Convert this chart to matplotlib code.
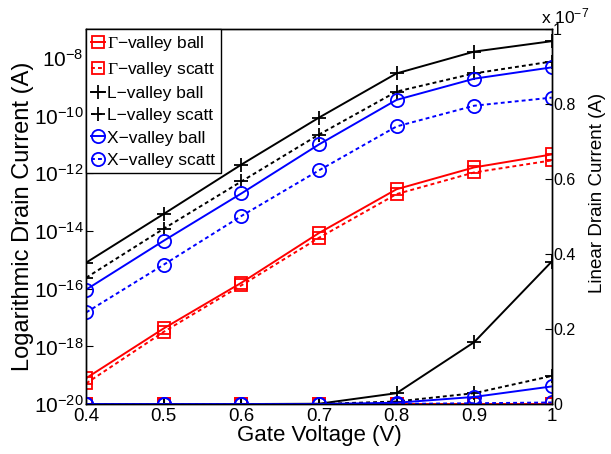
import numpy as np
import matplotlib
matplotlib.use("Agg")
import matplotlib.pyplot as plt
from matplotlib.ticker import FixedLocator, NullLocator

plt.rcParams['font.family'] = ['Liberation Sans', 'DejaVu Sans']
plt.rcParams['mathtext.fontset'] = 'custom'
plt.rcParams['mathtext.rm'] = 'Liberation Sans'
plt.rcParams['mathtext.it'] = 'Liberation Sans:italic'
plt.rcParams['mathtext.sf'] = 'Liberation Serif'

gate_voltage = [0.4, 0.5, 0.6, 0.7, 0.8, 0.9, 1.0]

# Drain currents (A)
gamma_ball  = [7.9e-20, 4.2e-18, 1.6e-16, 8.5e-15, 2.8e-13, 1.6e-12, 4.5e-12]
gamma_scatt = [5.2e-20, 3.2e-18, 1.3e-16, 5.8e-15, 1.9e-13, 1.07e-12, 2.8e-12]
L_ball      = [8.0e-16, 3.9e-14, 2.0e-12, 8.5e-11, 2.9e-9, 1.65e-8, 3.8e-8]
L_scatt     = [2.4e-16, 1.2e-14, 5.2e-13, 2.2e-11, 6.8e-10, 2.9e-9, 7.5e-9]
X_ball      = [9.3e-17, 4.6e-15, 2.0e-13, 1.0e-11, 3.5e-10, 1.9e-9, 4.7e-9]
X_scatt     = [1.5e-17, 6.8e-16, 3.3e-14, 1.26e-12, 4.2e-11, 2.2e-10, 4.2e-10]

labels = [r'$\mathsf{\Gamma}$' + '\u2212valley ball',
          r'$\mathsf{\Gamma}$' + '\u2212valley scatt',
          'L\u2212valley ball', 'L\u2212valley scatt',
          'X\u2212valley ball', 'X\u2212valley scatt']

series = [gamma_ball, gamma_scatt, L_ball, L_scatt, X_ball, X_scatt]
dash = (0, (2.0, 1.6))
styles = [('red', 's', '-'), ('red', 's', dash),
          ('black', '+', '-'), ('black', '+', dash),
          ('blue', 'o', '-'), ('blue', 'o', dash)]

log_ticks = [1e-20, 1e-18, 1e-16, 1e-14, 1e-12, 1e-10, 1e-8]
lin_ticks = [0, 0.2e-7, 0.4e-7, 0.6e-7, 0.8e-7, 1e-7]
lin_ticklabels = ['0', '0.2', '0.4', '0.6', '0.8', '1']
x_ticklabels = ['0.4', '0.5', '0.6', '0.7', '0.8', '0.9', '1']

fig = plt.figure(figsize=(6.11, 4.54), dpi=100)
ax = fig.add_axes([0.141, 0.110, 0.762, 0.826])
ax2 = ax.twinx()

handles = []
for data, (c, m, ls), lab in zip(series, styles, labels):
    ms = 9.5 if m == 'o' else (10 if m == '+' else 8.5)
    kw = dict(color=c, marker=m, linestyle=ls, markersize=ms,
              markerfacecolor='none', markeredgewidth=1.3, linewidth=1.4)
    h, = ax.semilogy(gate_voltage, data, label=lab, **kw)
    handles.append(h)
    ax2.plot(gate_voltage, data, **kw)

ax.set_xlim(0.4, 1.0)
ax.set_ylim(1e-20, 1e-7)
ax.yaxis.set_major_locator(FixedLocator(log_ticks))
ax.yaxis.set_minor_locator(NullLocator())
ax.set_xticks(gate_voltage)
ax.set_xticklabels(x_ticklabels)
ax.tick_params(axis='both', direction='in', length=5)
ax.tick_params(axis='x', labelsize=13.5, pad=3)
ax.tick_params(axis='y', labelsize=15, pad=2)

ax2.set_ylim(0, 1e-7)
ax2.set_yticks(lin_ticks)
ax2.set_yticklabels(lin_ticklabels)
ax2.tick_params(axis='y', direction='in', labelsize=11.5, length=5, pad=1)

ax.set_xlabel('Gate Voltage (V)', fontsize=16, labelpad=0)
ax.set_ylabel('Logarithmic Drain Current (A)', fontsize=17, labelpad=0)
ax2.set_ylabel('Linear Drain Current (A)', fontsize=13.5)
ax2.yaxis.set_label_coords(1.08, 0.563)

ax2.text(0.976, 1.008, 'x 10$^{-7}$', transform=ax2.transAxes, fontsize=12.5,
         ha='left', va='bottom')

leg = ax2.legend(handles=handles, loc='upper left', borderaxespad=0,
                 fontsize=12.5, frameon=True, fancybox=False, framealpha=1,
                 edgecolor='black', handlelength=0.8, handletextpad=0.12,
                 labelspacing=0.4, borderpad=0.3)
leg.get_frame().set_linewidth(1.0)

for a in (ax, ax2):
    for s in a.spines.values():
        s.set_linewidth(1.0)

fig.savefig('out.png', dpi=100)
